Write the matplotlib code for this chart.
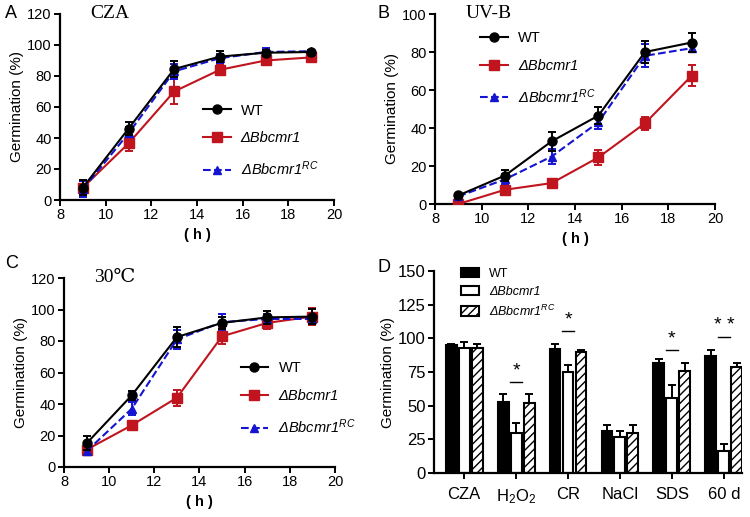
import matplotlib
matplotlib.use("Agg")
import matplotlib.pyplot as plt
from matplotlib.lines import Line2D
import numpy as np

plt.rcParams['font.family'] = ['Liberation Sans', 'DejaVu Sans']
plt.rcParams['mathtext.fontset'] = 'custom'
plt.rcParams['mathtext.rm'] = 'Liberation Sans'
plt.rcParams['mathtext.it'] = 'Liberation Sans:italic'
plt.rcParams['mathtext.bf'] = 'Liberation Sans:bold'

# ---------------- data ----------------
hours = [9, 11, 13, 15, 17, 19]

cza_wt = [8, 46, 84.5, 92.5, 95, 95.5]
cza_wt_err = [5, 4, 5, 3.5, 2, 1]
cza_ko = [8, 36.5, 70, 84, 90, 92]
cza_ko_err = [5, 5, 8, 3.5, 2, 1.5]
cza_rc = [7, 43, 83, 91.5, 95.5, 96]
cza_rc_err = [5, 4, 5, 3, 2.5, 1]

uvb_wt = [4.5, 15, 33, 46.5, 80, 85]
uvb_wt_err = [1, 3, 5, 4.5, 6, 5]
uvb_ko = [0, 7.5, 11, 24.5, 42.5, 67.5]
uvb_ko_err = [0.5, 1.5, 1.5, 4, 3.5, 5.5]
uvb_rc = [4, 13, 25, 43, 78, 82]
uvb_rc_err = [1, 3, 4, 3.5, 6, 2]

t30_wt = [15, 45.5, 82.5, 91.5, 95, 95.5]
t30_wt_err = [4.5, 3, 6.5, 4, 4, 5]
t30_ko = [11, 26.5, 44, 83, 91.5, 95.5]
t30_ko_err = [2, 3, 5, 5, 4, 5.5]
t30_rc = [10, 37, 81, 92, 94, 94]
t30_rc_err = [2, 4, 6, 5, 3, 3]

bar_cats = ['CZA', 'H$_2$O$_2$', 'CR', 'NaCl', 'SDS', '60 d']
bar_wt = [95, 53, 92, 31.5, 81.5, 87]
bar_wt_err = [1, 5.5, 4, 4.5, 3.5, 4]
bar_ko = [92.5, 30, 75, 27, 56, 16]
bar_ko_err = [4.5, 7, 5, 4, 9.5, 5.5]
bar_rc = [93, 52, 89.5, 29.5, 75.5, 78.5]
bar_rc_err = [2.5, 7, 1.5, 6, 6.5, 3.5]

sig_idx = [1, 2, 4, 5]
sig_level = [67.6, 105.6, 91.3, 101]
sig_text = ['*', '*', '*', '* *']

lab_wt = 'WT'
lab_ko = 'ΔBbcmr1'
lab_rc = r'ΔBbcmr1$^{\mathit{RC}}$'

RED = '#C0141E'
BLUE = '#1414D2'

fig = plt.figure(figsize=(7.5, 5.17), dpi=100)
W, H = 750, 517


def ax_px(l, r, t, b):
    return fig.add_axes([l / W, (H - b) / H, (r - l) / W, (b - t) / H])


def style_ax(ax):
    for s in ['top', 'right']:
        ax.spines[s].set_visible(False)
    for s in ['left', 'bottom']:
        ax.spines[s].set_linewidth(1.6)
    ax.tick_params(width=1.4, length=4, labelsize=10.5, direction='out', pad=2)


def line_panel(ax, wt, wte, ko, koe, rc, rce, ymax, title, legloc):
    ekw = dict(capsize=3, elinewidth=1.4, capthick=1.4, lw=1.5)
    ax.errorbar(hours, wt, yerr=wte, color='black', marker='o', ms=6.5, zorder=4, **ekw)
    ax.errorbar(hours, ko, yerr=koe, color=RED, marker='s', ms=6.5, zorder=3, **ekw)
    ax.errorbar(hours, rc, yerr=rce, color=BLUE, marker='^', ms=5.5, ls='--', zorder=3, **ekw)
    ax.set_xlim(8, 20)
    ax.set_ylim(0, ymax)
    ax.set_xticks(range(8, 21, 2))
    ax.set_yticks(range(0, ymax + 1, 20))
    ax.set_ylabel('Germination (%)', fontsize=11, labelpad=2)
    ax.set_xlabel('( h )', fontsize=10.5, fontweight='bold', labelpad=4)
    style_ax(ax)
    ax.text(0.11, 1.0, title, transform=ax.transAxes,
            family=['Liberation Serif', 'DejaVu Serif', 'DejaVu Sans'],
            fontsize=14, va='center', ha='left')
    handles = [Line2D([], [], color='black', marker='o', ms=6.5, lw=1.5),
               Line2D([], [], color=RED, marker='s', ms=6.5, lw=1.5),
               Line2D([], [], color=BLUE, marker='^', ms=5.5, lw=1.5, ls='--')]
    leg = ax.legend(handles, [lab_wt, lab_ko, lab_rc], loc='upper left', bbox_to_anchor=legloc,
                    frameon=False, fontsize=10.5, handlelength=1.9, labelspacing=0.95,
                    handletextpad=0.7, borderaxespad=0)
    for t in leg.get_texts()[1:]:
        t.set_style('italic')


axA = ax_px(60, 334, 14, 200)
line_panel(axA, cza_wt, cza_wt_err, cza_ko, cza_ko_err, cza_rc, cza_rc_err, 120, 'CZA',
           (0.5, 0.55))
axB = ax_px(435, 715, 14, 204)
line_panel(axB, uvb_wt, uvb_wt_err, uvb_ko, uvb_ko_err, uvb_rc, uvb_rc_err, 100, 'UV-B',
           (0.14, 0.94))
axC = ax_px(64, 335, 278, 467)
line_panel(axC, t30_wt, t30_wt_err, t30_ko, t30_ko_err, t30_rc, t30_rc_err, 120, '30\u2103',
           (0.63, 0.59))

# ---------------- bar panel ----------------
axD = ax_px(434, 742, 271, 473)
x = np.arange(len(bar_cats))
bw = 0.21
off = 0.25
kw = dict(edgecolor='black', linewidth=1.5, capsize=3,
          error_kw=dict(elinewidth=1.4, capthick=1.4, ecolor='black'))
axD.bar(x - off, bar_wt, bw, yerr=[np.zeros(6), bar_wt_err], color='black', label=lab_wt, **kw)
axD.bar(x, bar_ko, bw, yerr=[np.zeros(6), bar_ko_err], color='white', label=lab_ko, **kw)
axD.bar(x + off, bar_rc, bw, yerr=[np.zeros(6), bar_rc_err], color='white', hatch='////',
        label=lab_rc, **kw)
axD.set_xlim(-0.58, 5.35)
axD.set_ylim(0, 150)
axD.set_yticks(range(0, 151, 25))
axD.set_xticks(x)
axD.set_xticklabels(bar_cats, fontsize=12)
axD.set_ylabel('Germination (%)', fontsize=11, labelpad=2)
style_ax(axD)
axD.tick_params(axis='x', labelsize=12, pad=6)
axD.tick_params(axis='y', labelsize=12)
for i, lvl, s in zip(sig_idx, sig_level, sig_text):
    axD.plot([i - 0.12, i + 0.12], [lvl, lvl], color='black', lw=1.0)
    axD.text(i, lvl + 2, s, ha='center', va='bottom', fontsize=14)
legD = axD.legend(loc='upper left', bbox_to_anchor=(0.07, 1.04), frameon=False, fontsize=9,
                  handlelength=1.5, handleheight=0.8, labelspacing=0.45, handletextpad=0.8,
                  borderaxespad=0)
for t in legD.get_texts()[1:]:
    t.set_style('italic')

# panel letters
fig.text(5 / W, 1 - 13 / H, 'A', fontsize=13, va='center', ha='left')
fig.text(377 / W, 1 - 13 / H, 'B', fontsize=13, va='center', ha='left')
fig.text(5 / W, 1 - 264 / H, 'C', fontsize=13, va='center', ha='left')
fig.text(377 / W, 1 - 268 / H, 'D', fontsize=13, va='center', ha='left')

fig.savefig('out.png', dpi=100)
